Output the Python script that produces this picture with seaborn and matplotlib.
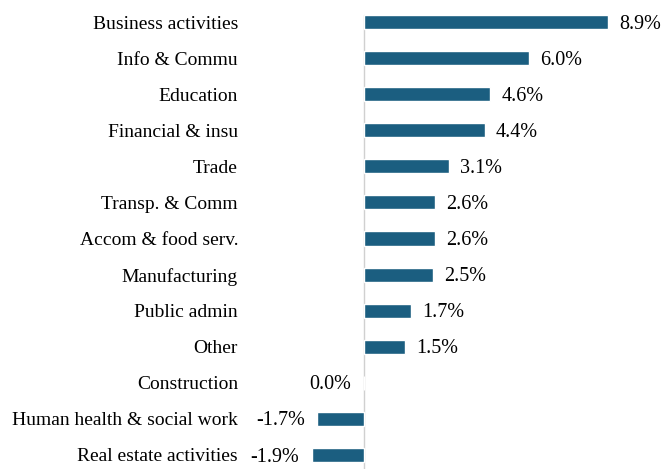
import matplotlib
matplotlib.use("Agg")
import matplotlib.pyplot as plt
import seaborn as sns
import pandas as pd

categories = ["Business activities", "Info & Commu", "Education", "Financial & insu",
              "Trade", "Transp. & Comm", "Accom & food serv.", "Manufacturing",
              "Public admin", "Other", "Construction", "Human health & social work",
              "Real estate activities"]
values = [8.9, 6.0, 4.6, 4.4, 3.1, 2.6, 2.6, 2.5, 1.7, 1.5, 0.0, -1.7, -1.9]

df = pd.DataFrame({"cat": categories, "val": values})

sns.set_style("white")
plt.rcParams["font.family"] = ["Liberation Serif", "DejaVu Serif"]
plt.rcParams["text.color"] = "black"
plt.rcParams["ytick.color"] = "black"

W, H = 664, 469
fig = plt.figure(figsize=(W / 100, H / 100), dpi=100)
# axes: x 0 at px 364, 27.42 px per unit; rows centers 22..455
pxu = 27.42
xmin, xmax = -2.0, 10.0
left = 364 + xmin * pxu
right = 364 + xmax * pxu
top = 22 - 36.08 / 2
bottom = 455 + 36.08 / 2
ax = fig.add_axes([left / W, 1 - bottom / H, (right - left) / W, (bottom - top) / H])

sns.barplot(data=df, y="cat", x="val", orient="h", color="#1b5e80",
            width=0.39, ax=ax, saturation=1)
ax.set_xlim(xmin, xmax)
ax.set_ylim(len(categories) - 0.5, -0.5)
for s in ax.spines.values():
    s.set_visible(False)
ax.set_xticks([])
ax.set_xlabel("")
ax.set_ylabel("")
ax.tick_params(axis="y", length=0, pad=(left - 238) * 0.72, labelsize=14, labelcolor="black")
ax.axvline(0, ymin=0, ymax=(bottom - 15) / (bottom - top), color="#d0d0d0", lw=1, zorder=0)

for i, v in enumerate(values):
    if v > 0:
        ax.annotate(f"{v:.1f}%", (v, i), xytext=(8, -1.5), textcoords="offset points",
                    ha="left", va="center", fontsize=14.5, color="black")
    else:
        ax.annotate(f"{v:.1f}%", (v, i), xytext=(-9, -1.5), textcoords="offset points",
                    ha="right", va="center", fontsize=14.5, color="black")

fig.savefig("out.png", dpi=100)
